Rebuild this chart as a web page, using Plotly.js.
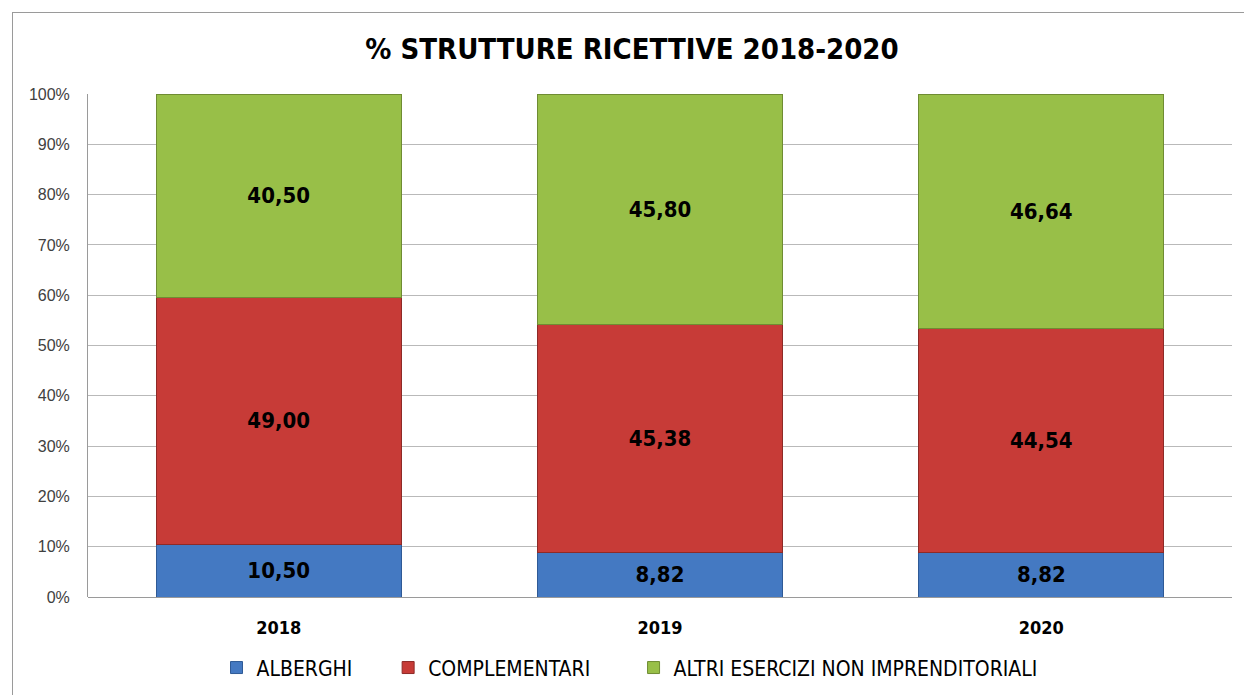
<!DOCTYPE html>
<html>
<head>
<meta charset="utf-8">
<script src="https://cdn.plot.ly/plotly-3.0.1.min.js"></script>
<style>
  html, body { margin: 0; padding: 0; background: #fff; }
  #wrap { position: relative; width: 1244px; height: 695px; overflow: hidden; }
  #chart { position: absolute; left: 0; top: 0; width: 1244px; height: 695px; }
  #frame { position: absolute; left: 12px; top: 12px; width: 1260px; height: 720px; border: 1px solid #9a9a9a; pointer-events: none; }
  #chart text { font-stretch: condensed; }
  #chart .ytick text { font-stretch: normal; }
</style>
</head>
<body>
<div id="wrap">
  <div id="chart"></div>
  <div id="frame"></div>
</div>
<script>
const years = ['2018', '2019', '2020'];
const alberghi = [10.50, 8.82, 8.82];
const complementari = [49.00, 45.38, 44.54];
const altri = [40.50, 45.80, 46.64];
const seriesNames = ['ALBERGHI', 'COMPLEMENTARI', 'ALTRI ESERCIZI NON IMPRENDITORIALI'];
const yTicks = [0, 10, 20, 30, 40, 50, 60, 70, 80, 90, 100];

const narrow = '"DejaVu Sans", sans-serif';
const fmt = v => v.toFixed(2).replace('.', ',');
const pad = '\u00a0\u00a0\u00a0';

function mk(name, vals, color, line) {
  return {
    type: 'bar', name: name + pad, x: years, y: vals,
    marker: { color: color, line: { color: line, width: 1 } },
    text: vals.map(fmt), textposition: 'inside', insidetextanchor: 'middle',
    textfont: { family: narrow, size: 22, color: '#000', weight: 'bold' },
    hoverinfo: 'skip'
  };
}

const data = [
  mk(seriesNames[0], alberghi, '#4479c2', '#2f5a96'),
  mk(seriesNames[1], complementari, '#c73b37', '#8e2a27'),
  mk(seriesNames[2], altri, '#98bf48', '#6f8c33')
];

const layout = {
  width: 1244, height: 695,
  barmode: 'stack', bargap: 0.357,
  paper_bgcolor: '#fff', plot_bgcolor: '#fff',
  margin: { l: 88, r: 12, t: 94, b: 98, autoexpand: false },
  title: { text: '<b>% STRUTTURE RICETTIVE 2018-2020</b>', x: 0.508, xanchor: 'center', y: 0.93, yanchor: 'middle',
           font: { family: narrow, size: 29, color: '#000' } },
  xaxis: { tickfont: { family: narrow, size: 18, color: '#000', weight: 'bold' },
           showgrid: false, showline: false, ticks: '', ticklabelstandoff: 18 },
  yaxis: { range: [0, 100], tickvals: yTicks, ticktext: yTicks.map(v => v + '%'),
           tickfont: { family: '"Liberation Sans", sans-serif', size: 16, color: '#404040' },
           showgrid: true, gridcolor: '#b9b9b9', gridwidth: 1,
           showline: true, linecolor: '#9a9a9a', linewidth: 1, zeroline: true, zerolinecolor: '#9a9a9a',
           ticks: '', ticklabelstandoff: 14, showticklabels: true },
  legend: { orientation: 'h', x: 0.5, xanchor: 'center', yref: 'container', y: 0.039, yanchor: 'middle',
            font: { family: narrow, size: 21, color: '#000' }, itemwidth: 30, traceorder: 'normal' },
  showlegend: true
};

Plotly.newPlot('chart', data, layout, { displayModeBar: false, staticPlot: true });
</script>
</body>
</html>
